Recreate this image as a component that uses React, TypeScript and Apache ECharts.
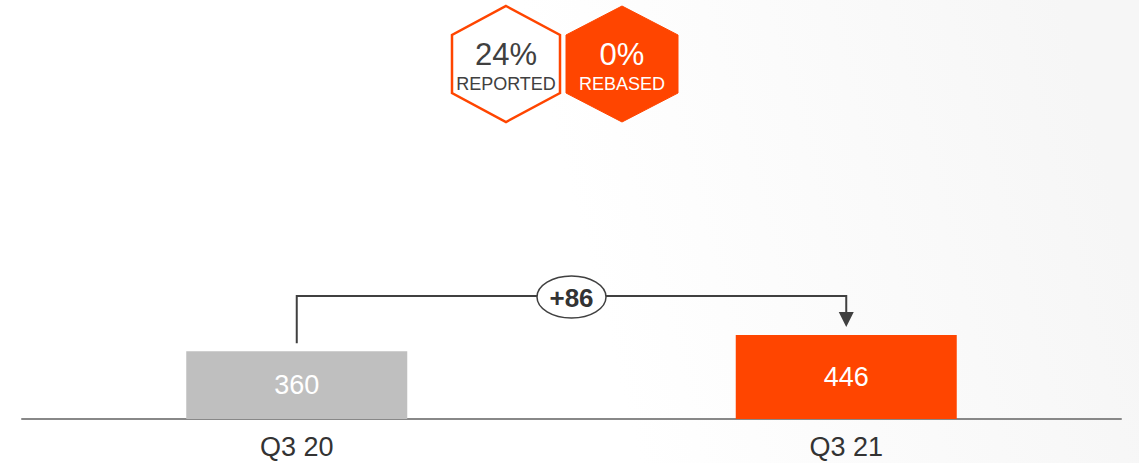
import React, { useEffect, useRef } from "react";
import * as echarts from "echarts";

const categories = ["Q3 20", "Q3 21"];
const values = [360, 446];
const barColors = ["#BFBFBF", "#FF4500"];
const badgeValues = ["24%", "0%"];
const badgeLabels = ["REPORTED", "REBASED"];

const ORANGE = "#FF4500";
const DARK = "#404040";
const FONT = "'Liberation Sans', Arial, sans-serif";

function hexPoints(cx: number, top: number, bottom: number, halfW: number): number[][] {
  const h = bottom - top;
  const y1 = top + h * 0.25;
  const y2 = top + h * 0.75;
  return [
    [cx, top],
    [cx + halfW, y1],
    [cx + halfW, y2],
    [cx, bottom],
    [cx - halfW, y2],
    [cx - halfW, y1],
  ];
}

export default function App() {
  const ref = useRef<HTMLDivElement>(null);
  useEffect(() => {
    if (!ref.current) return;
    const chart = echarts.init(ref.current, undefined, { renderer: "svg" });
    const option: any = {
      animation: false,
      backgroundColor: {
        type: "linear",
        global: true,
        x: 640,
        y: 463,
        x2: 1150,
        y2: 330,
        colorStops: [
          { offset: 0, color: "#ffffff" },
          { offset: 1, color: "#f6f6f6" },
        ],
      },
      grid: { left: 22, right: 18, top: 42, bottom: 44 },
      xAxis: {
        type: "category",
        data: categories,
        axisLine: { show: true, lineStyle: { color: "#888888", width: 2 } },
        axisTick: { show: false },
        axisLabel: { fontSize: 27, color: "#333333", fontFamily: FONT, margin: 14 },
      },
      yAxis: { type: "value", min: 0, max: 2000, show: false, splitLine: { show: false } },
      series: [
        {
          type: "bar",
          barWidth: 221,
          data: values.map((v, i) => ({ value: v, itemStyle: { color: barColors[i] } })),
          label: {
            show: true,
            position: "inside",
            color: "#ffffff",
            fontSize: 27,
            fontFamily: FONT,
          },
        },
      ],
    };
    chart.setOption(option);

    const p0 = chart.convertToPixel({ xAxisIndex: 0, yAxisIndex: 0 }, [0, values[0]]) as number[];
    const p1 = chart.convertToPixel({ xAxisIndex: 0, yAxisIndex: 0 }, [1, values[1]]) as number[];
    const topY = Math.min(p0[1], p1[1]);
    const hY = topY - 39;
    const midX = (p0[0] + p1[0]) / 2;
    const diff = values[1] - values[0];
    const diffText = (diff >= 0 ? "+" : "") + diff;

    const hexCenters = [506, 622];
    const badgeEls: any[] = [];
    badgeValues.forEach((bv, i) => {
      const cx = hexCenters[i];
      const filled = i === 1;
      badgeEls.push({
        type: "polygon",
        shape: { points: hexPoints(cx, 6, 122, filled ? 56 : 54) },
        style: filled
          ? { fill: ORANGE, stroke: ORANGE, lineWidth: 1 }
          : { fill: "#ffffff", stroke: ORANGE, lineWidth: 2.5 },
        z: 10,
      });
      badgeEls.push({
        type: "text",
        x: cx,
        y: 54,
        style: {
          text: bv,
          fontSize: 31,
          fontFamily: FONT,
          fill: filled ? "#ffffff" : DARK,
          align: "center",
          verticalAlign: "middle",
        },
        z: 11,
      });
      badgeEls.push({
        type: "text",
        x: cx,
        y: 84,
        style: {
          text: badgeLabels[i],
          fontSize: 18,
          fontFamily: FONT,
          fill: filled ? "#ffffff" : DARK,
          align: "center",
          verticalAlign: "middle",
        },
        z: 11,
      });
    });

    chart.setOption({
      graphic: [
        ...badgeEls,
        {
          type: "polyline",
          shape: {
            points: [
              [p0[0], p0[1] - 8],
              [p0[0], hY],
              [p1[0], hY],
              [p1[0], p1[1] - 22],
            ],
          },
          style: { stroke: DARK, lineWidth: 2, fill: null },
          z: 5,
        },
        {
          type: "polygon",
          shape: {
            points: [
              [p1[0] - 7.5, p1[1] - 23],
              [p1[0] + 7.5, p1[1] - 23],
              [p1[0], p1[1] - 8],
            ],
          },
          style: { fill: DARK },
          z: 5,
        },
        {
          type: "ellipse",
          shape: { cx: midX, cy: hY + 1, rx: 34.5, ry: 21 },
          style: { fill: "#ffffff", stroke: DARK, lineWidth: 1.5 },
          z: 6,
        },
        {
          type: "text",
          x: midX,
          y: hY + 2,
          style: {
            text: diffText,
            fontSize: 26,
            fontWeight: "bold",
            fontFamily: FONT,
            fill: "#333333",
            align: "center",
            verticalAlign: "middle",
          },
          z: 7,
        },
      ],
    });

    return () => chart.dispose();
  }, []);
  return (
    <div
      ref={ref}
      style={{ position: "absolute", left: 0, top: 0, width: 1139, height: 463 }}
    />
  );
}
